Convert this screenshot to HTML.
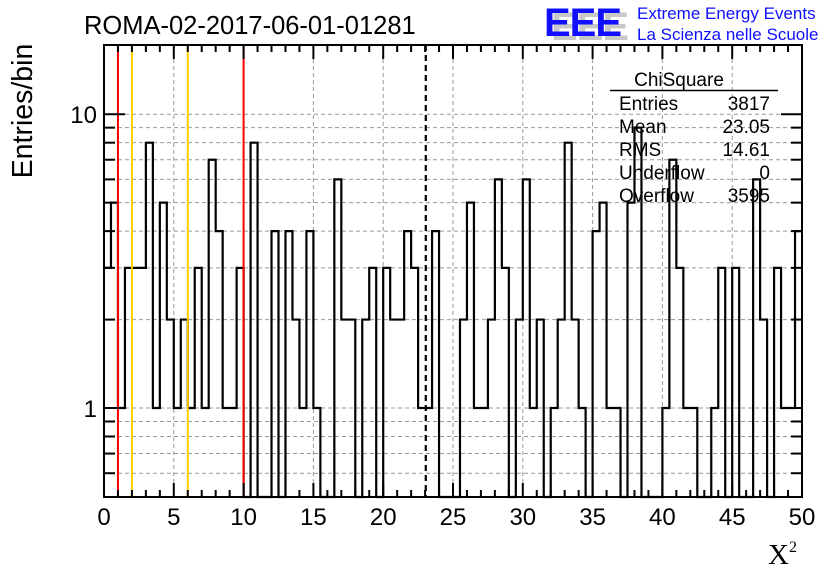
<!DOCTYPE html>
<html><head><meta charset="utf-8"><style>
body{margin:0;background:#fff}
svg{display:block}
text{font-family:"Liberation Sans",sans-serif}
</style></head><body>
<svg id="c" width="836" height="572">
<rect width="836" height="572" fill="#fff"/>
<g id="grid"></g><g id="marks"></g><g id="axes"></g>
<text x="84" y="34" font-size="25.5">ROMA-02-2017-06-01-01281</text>
<g>
<text x="551" y="40" font-size="40" font-weight="bold" fill="#c8c8c8" letter-spacing="-1">EEE</text>
<text x="544" y="36" font-size="40" font-weight="bold" fill="#1010ff" letter-spacing="-1">EEE</text>
<text x="637" y="19" font-size="17" fill="#1010ff">Extreme Energy Events</text>
<text x="637" y="40" font-size="17" fill="#1010ff">La Scienza nelle Scuole</text>
</g>
<g font-size="19">
<text x="679" y="86" text-anchor="middle">ChiSquare</text>
<line x1="610" y1="90.5" x2="778" y2="90.5" stroke="#000" stroke-width="1.5"/>
<text x="619" y="110">Entries</text><text x="770" y="110" text-anchor="end">3817</text>
<text x="619" y="133">Mean</text><text x="770" y="133" text-anchor="end">23.05</text>
<text x="619" y="156">RMS</text><text x="770" y="156" text-anchor="end">14.61</text>
<text x="619" y="179">Underflow</text><text x="770" y="179" text-anchor="end">0</text>
<text x="619" y="202">Overflow</text><text x="770" y="202" text-anchor="end">3595</text>
</g>
<text transform="translate(32,111) rotate(-90)" text-anchor="middle" font-size="28.5">Entries/bin</text>
<text x="768" y="564" font-size="29" style="font-family:'Liberation Serif',serif">X<tspan font-size="16" dy="-12">2</tspan></text>
</svg>
<script>
const counts=[3,5,1,3,3,3,8,1,5,2,1,2,1,3,1,7,4,1,1,3,0,8,0,0,4,0,4,2,1,4,1,0,0,6,2,2,0,2,3,0,3,2,2,4,3,1,1,4,0,0,0,2,5,1,1,2,6,3,0,2,6,1,2,0,1,2,8,2,1,0,4,5,1,1,0,5,9,0,0,0,1,7,3,1,1,0,0,1,3,0,3,0,0,6,2,0,3,1,1,4];
const xRange=[0,50];
const binWidth=0.5;
const xTickLabels=[0,5,10,15,20,25,30,35,40,45,50];
const yTickLabels=[1,10];
const cutLines=[1,2,6,10];
const cutColors=['#ff0000','#ffcc00','#ffcc00','#ff0000'];
const meanValue=23.05;
const yMin=0.498, yMax=17.2;
const L=104,R=802,T=45,B=497;
const NS='http://www.w3.org/2000/svg';
const X=v=>L+(v-xRange[0])/(xRange[1]-xRange[0])*(R-L);
const Y=v=>B-(Math.log10(v)-Math.log10(yMin))/(Math.log10(yMax)-Math.log10(yMin))*(B-T);
function mk(tag,attrs,parent){const e=document.createElementNS(NS,tag);for(const k in attrs)e.setAttribute(k,attrs[k]);document.getElementById(parent).appendChild(e);return e;}
const yGridVals=[0.6,0.7,0.8,0.9,1,2,3,4,5,6,7,8,9,10];
yGridVals.forEach(v=>{const l=mk('line',{x1:L,x2:R,y1:Y(v),y2:Y(v),stroke:'#999','stroke-dasharray':'4,3','stroke-width':1},'grid');

});
xTickLabels.forEach(v=>{const l=mk('line',{x1:X(v),x2:X(v),y1:T,y2:B,stroke:'#999','stroke-dasharray':'4,3','stroke-width':1},'grid');

});
let d='';
counts.forEach((c,i)=>{const x0=X(xRange[0]+i*binWidth),x1=X(xRange[0]+(i+1)*binWidth);const y=c>0?Y(c):B;
d+=(i===0?`M${x0},${y}`:`L${x0},${y}`)+`L${x1},${y}`;});
d+=`L${X(xRange[1])},${Y(counts[counts.length-1])}`;
const h=mk('path',{d:d,fill:'none',stroke:'#000','stroke-width':2.2},'marks');


cutLines.forEach((v,i)=>{const l=mk('line',{x1:X(v),x2:X(v),y1:T,y2:B,stroke:cutColors[i],'stroke-width':2},'marks');

});
const m=mk('line',{x1:X(meanValue),x2:X(meanValue),y1:T,y2:B,stroke:'#000','stroke-width':2.2,'stroke-dasharray':'6,4'},'marks');


const f=mk('rect',{x:L,y:T,width:R-L,height:B-T,fill:'none',stroke:'#000','stroke-width':2},'axes');


for(let v=xRange[0];v<=xRange[1];v+=1){const len=(v%5===0)?14:7;
mk('line',{x1:X(v),x2:X(v),y1:B,y2:B-len,stroke:'#000','stroke-width':2},'axes');
mk('line',{x1:X(v),x2:X(v),y1:T,y2:T+len,stroke:'#000','stroke-width':2},'axes');}
xTickLabels.forEach(v=>{const t=mk('text',{x:X(v),y:525,'text-anchor':'middle','font-size':24},'axes');t.textContent=v;

});
yGridVals.forEach(v=>{const len=(v===1||v===10)?21:11;
mk('line',{x1:L,x2:L+len,y1:Y(v),y2:Y(v),stroke:'#000','stroke-width':2},'axes');
mk('line',{x1:R,x2:R-len,y1:Y(v),y2:Y(v),stroke:'#000','stroke-width':2},'axes');});
yTickLabels.forEach(v=>{const t=mk('text',{x:97,y:Y(v)+9,'text-anchor':'end','font-size':24},'axes');t.textContent=v;

});
</script>
</body></html>
